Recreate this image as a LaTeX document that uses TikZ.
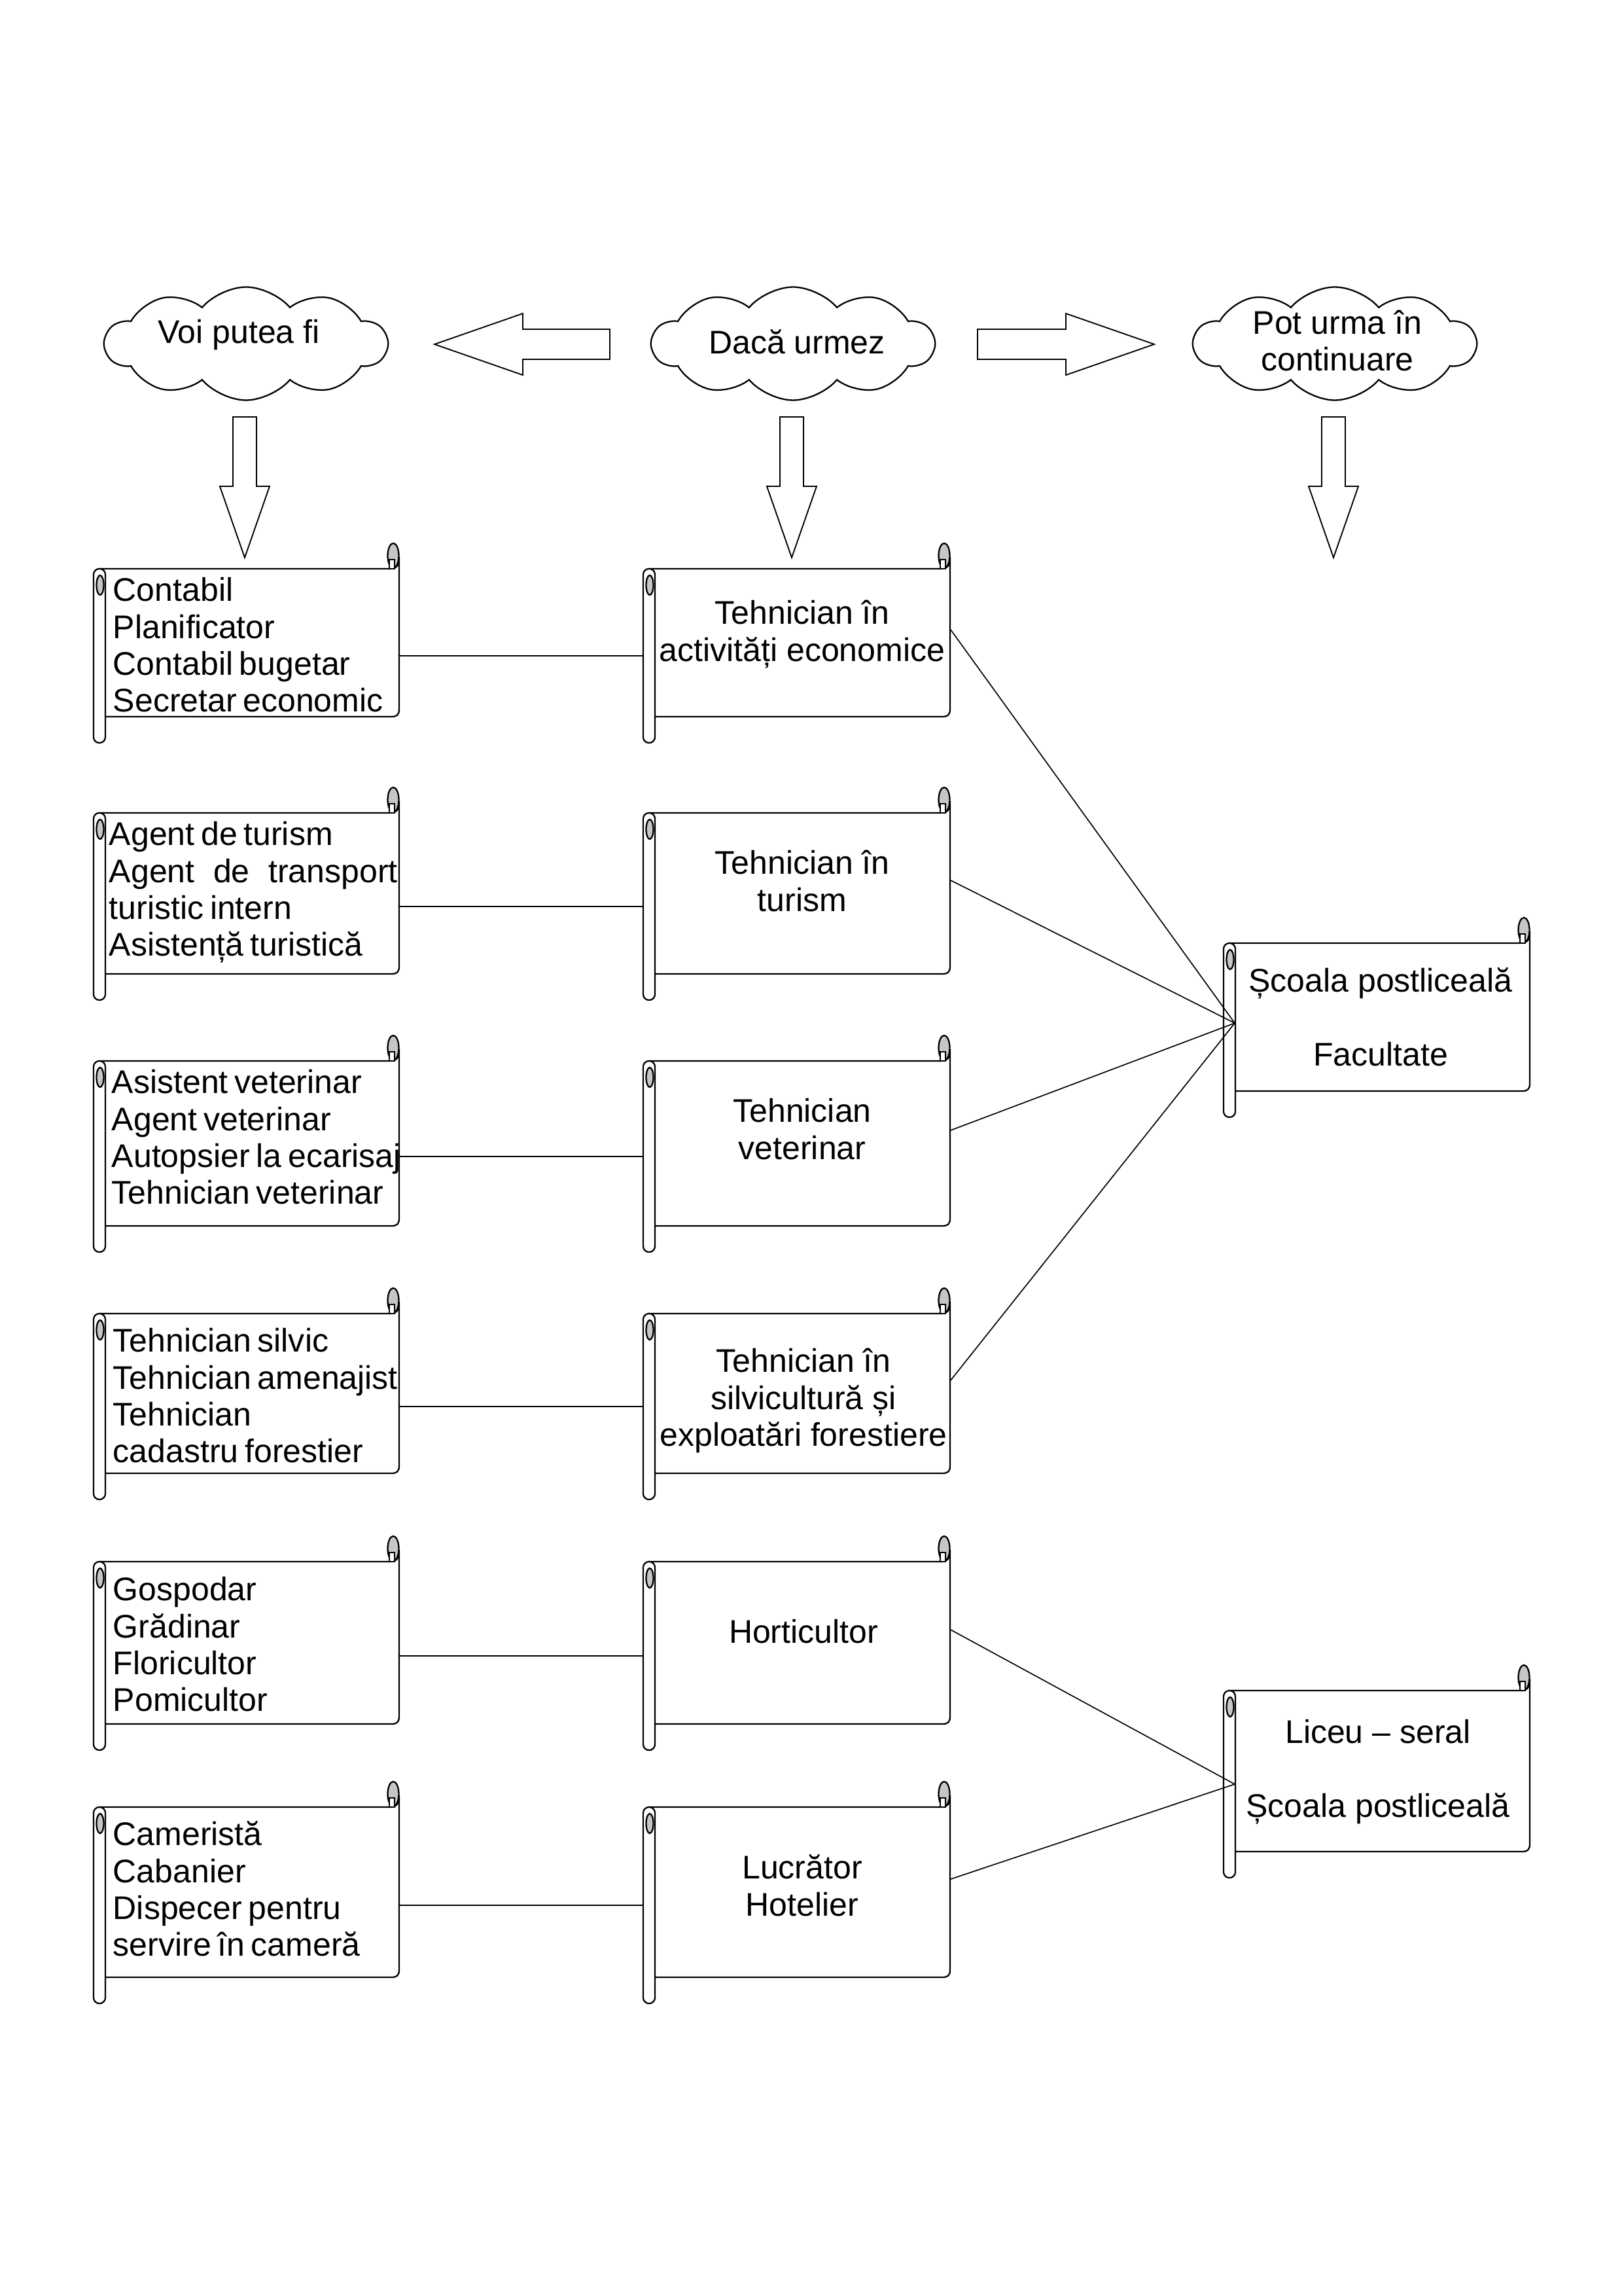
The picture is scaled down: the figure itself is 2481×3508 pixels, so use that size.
\documentclass[tikz,border=0pt]{standalone}
\usepackage{fontspec}
\setmainfont{Liberation Sans}
\newfontfamily\tightfont{Liberation Sans}[WordSpace=0.7]
\usetikzlibrary{shapes.symbols}
\tikzset{
  scrollline/.style={line width=0.55pt, draw=black},
  conn/.style={line width=0.4pt, draw=black},
  blk/.style={line width=0.45pt, draw=black, fill=white},
  cloudbox/.style={cloud, cloud puffs=10, cloud puff arc=100, cloud ignores aspect, draw=black, line width=0.55pt, minimum width=103.2pt, minimum height=41.5pt, inner sep=0pt},
  lefttext/.style={anchor=north west, inner sep=0pt, align=left, font=\tightfont\fontsize{12}{13.5}\selectfont},
  midtext/.style={anchor=north, inner sep=0pt, align=center, font=\fontsize{12}{13.5}\selectfont},
  cloudtext/.style={inner sep=0pt, align=center, font=\fontsize{12}{13.5}\selectfont}
}
% name, L, T, R, B  (pixel units, y downward)
\newcommand\scrollbox[5]{%
  \filldraw[scrollline, fill=white] (#2+9,#3) -- (#4-14,#3) .. controls (#4-4,#3) and (#4,#3-5) .. (#4,#3-18) -- (#4,#5-12) .. controls (#4,#5-3) and (#4-3,#5) .. (#4-12,#5) -- (#2+9,#5) -- cycle;
  \filldraw[scrollline, fill=gray!45] (#4-9,#3-20) ellipse [x radius=8.5, y radius=19];
  \filldraw[scrollline, fill=white] (#4-15,#3-14) rectangle (#4-7,#3);
  \filldraw[scrollline, fill=white, rounded corners=2.1pt] (#2,#3) rectangle (#2+18,#5+40);
  \filldraw[scrollline, fill=gray!45] (#2+10,#3+25) ellipse [x radius=5.5, y radius=15];
  \pgfmathsetmacro\sw{(#4-#2)*0.23994}%
  \pgfmathsetmacro\sh{(#5+40-#3)*0.23994}%
  \node[draw=none, inner sep=0pt, minimum width=\sw pt, minimum height=\sh pt] (#1) at ({(#2+#4)/2},{(#3+#5+40)/2}) {};
}
\begin{document}
\begin{tikzpicture}[x=0.23994pt, y=-0.23994pt]
\useasboundingbox (0,0) rectangle (2481,3508);
\fill[white] (0,0) rectangle (2481,3508);

% clouds
\node[cloudbox] (c1) at (376,525) {};
\node[cloudbox] (c2) at (1212,525) {};
\node[cloudbox] (c3) at (2040,525) {};
\node[cloudtext, anchor=base] (t1) at (365,524) {Voi putea fi};
\node[cloudtext, anchor=base] (t2) at (1218,540) {Dacă urmez};
\node[cloudtext, anchor=north] (t3) at (2044,470) {\strut Pot urma în\\\strut continuare};

% block arrows
\draw[blk] (932,503) -- (799,503) -- (799,479) -- (664,526) -- (799,573) -- (799,549) -- (932,549) -- cycle;
\draw[blk] (1494,503) -- (1629,503) -- (1629,479) -- (1764,526) -- (1629,573) -- (1629,549) -- (1494,549) -- cycle;
\foreach \cx in {374,1210,2038}{
  \draw[blk] (\cx-18,637) -- (\cx+18,637) -- (\cx+18,743) -- (\cx+38,743) -- (\cx,852) -- (\cx-38,743) -- (\cx-18,743) -- cycle;
}

% scrolls
\scrollbox{L1}{143}{869}{610}{1095}
\scrollbox{M1}{983}{869}{1452}{1095}
\scrollbox{L2}{143}{1242}{610}{1488}
\scrollbox{M2}{983}{1242}{1452}{1488}
\scrollbox{L3}{143}{1621}{610}{1873}
\scrollbox{M3}{983}{1621}{1452}{1873}
\scrollbox{L4}{143}{2007}{610}{2251}
\scrollbox{M4}{983}{2007}{1452}{2251}
\scrollbox{L5}{143}{2386}{610}{2634}
\scrollbox{M5}{983}{2386}{1452}{2634}
\scrollbox{L6}{143}{2761}{610}{3021}
\scrollbox{M6}{983}{2761}{1452}{3021}
\scrollbox{R1}{1870}{1441}{2338}{1667}
\scrollbox{R2}{1870}{2583}{2338}{2829}

% horizontal connectors
\foreach \i in {1,...,6}{
  \draw[conn] (L\i.east) -- (M\i.west);
}
% diagonal connectors
\foreach \i in {1,2,3,4}{
  \draw[conn] ([yshift=9.6pt]M\i.east) -- ([xshift=4.3pt,yshift=2.6pt]R1.west);
}
\foreach \i in {5,6}{
  \draw[conn] ([yshift=9.6pt]M\i.east) -- ([xshift=4.3pt]R2.west);
}

% left texts
\node[lefttext] (lt1) at (172,878.6) {\strut Contabil\\\strut Planificator\\\strut Contabil bugetar\\\strut Secretar economic};
\node[lefttext] (lt2) at (166,1251.6) {\strut Agent de turism\\\strut\makebox[105.8pt][s]{Agent de transport}\\\strut turistic intern\\\strut Asistență turistică};
\node[lefttext] (lt3) at (170,1630.6) {\strut Asistent veterinar\\\strut Agent veterinar\\\strut Autopsier la ecarisaj\\\strut Tehnician veterinar};
\node[lefttext] (lt4) at (172,2025.6) {\strut Tehnician silvic\\\strut Tehnician amenajist\\\strut Tehnician\\\strut cadastru forestier};
\node[lefttext] (lt5) at (172,2405.6) {\strut Gospodar\\\strut Grădinar\\\strut Floricultor\\\strut Pomicultor};
\node[lefttext] (lt6) at (172,2779.6) {\strut Cameristă\\\strut Cabanier\\\strut Dispecer pentru\\\strut servire în cameră};

% middle texts
\node[midtext] (mt1) at (1226,913.6) {\strut Tehnician în\\\strut activități economice};
\node[midtext] (mt2) at (1226,1295.6) {\strut Tehnician în\\\strut turism};
\node[midtext] (mt3) at (1226,1674.6) {\strut Tehnician\\\strut veterinar};
\node[midtext] (mt4) at (1228,2056.6) {\strut Tehnician în\\\strut silvicultură și\\\strut exploatări forestiere};
\node[midtext] (mt5) at (1228,2470.6) {\strut Horticultor};
\node[midtext] (mt6) at (1226,2830.6) {\strut Lucrător\\\strut Hotelier};

% right texts
\node[midtext] (rt1) at (2110,1475.6) {\strut Școala postliceală\\\strut\\\strut Facultate};
\node[midtext] (rt2) at (2106,2623.6) {\strut Liceu – seral\\\strut\\\strut Școala postliceală};
\end{tikzpicture}
\end{document}
